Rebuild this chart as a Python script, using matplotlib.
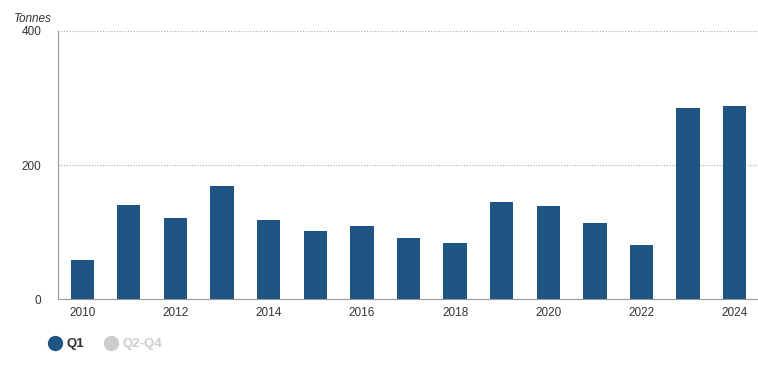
import matplotlib.pyplot as plt
from matplotlib.lines import Line2D

plt.rcParams['font.family'] = ['Liberation Sans', 'DejaVu Sans']

years = list(range(2010, 2025))
q1 = [58, 140, 121, 169, 118, 101, 109, 91, 84, 145, 139, 113, 81, 285, 288]
tick_years = [2010, 2012, 2014, 2016, 2018, 2020, 2022, 2024]
yticks = [0, 200, 400]

bar_color = "#1f5582"
hidden_color = "#cccccc"

fig = plt.figure(figsize=(7.58, 3.72), dpi=100)
ax = fig.add_axes([0.0765, 0.196, 0.9235, 0.7207])

x = list(range(len(years)))
ax.bar(x, q1, width=0.5, color=bar_color, zorder=3)

ax.set_xlim(-0.52, len(years) - 0.5)
ax.set_ylim(0, 400)
ax.set_yticks(yticks)
ax.set_yticklabels([str(v) for v in yticks], fontsize=8.5, color="#333333")
ax.set_xticks([years.index(y) for y in tick_years])
ax.set_xticklabels([str(y) for y in tick_years], fontsize=8.5, color="#333333")
ax.tick_params(axis="both", length=0)
ax.tick_params(axis="y", pad=12)
ax.tick_params(axis="x", pad=6)

for v in yticks[1:]:
    ax.axhline(v, color="#aaaaaa", linestyle=(0, (1, 1.5)), linewidth=0.8, zorder=1)

for side in ["top", "right"]:
    ax.spines[side].set_visible(False)
ax.spines["left"].set_color("#999999")
ax.spines["bottom"].set_color("#999999")

fig.text(0.018, 0.942, "Tonnes", fontsize=8.5, style="italic", color="#333333")

handles = [
    Line2D([], [], marker="o", linestyle="none", markersize=10, color=bar_color),
    Line2D([], [], marker="o", linestyle="none", markersize=10, color=hidden_color),
]
leg = fig.legend(handles, ["Q1", "Q2-Q4"], loc="center left", bbox_to_anchor=(0.048, 0.075),
                 ncol=2, frameon=False, fontsize=9.5, handletextpad=0.35, columnspacing=1.6,
                 handlelength=1.0)
texts = leg.get_texts()
texts[0].set_color("#333333")
texts[0].set_fontweight("bold")
texts[1].set_color(hidden_color)
texts[1].set_fontweight("bold")

fig.savefig("out.png", dpi=100)
